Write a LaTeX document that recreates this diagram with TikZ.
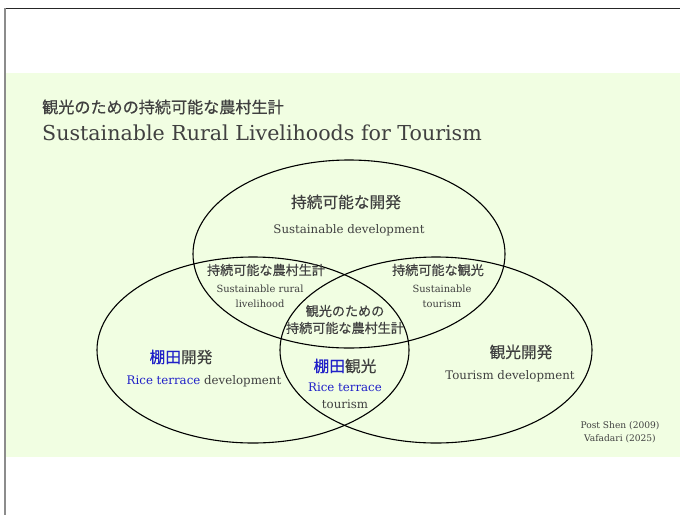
\documentclass[tikz,border=0pt]{standalone}
\usepackage{fontspec}
\setmainfont{DejaVu Serif}
\newfontfamily\jpfont[FakeBold=0.4]{Noto Sans CJK JP}
\definecolor{bandgreen}{HTML}{F1FEE2}
\definecolor{txt}{HTML}{404040}
\definecolor{rice}{HTML}{2020C8}
\begin{document}
\begin{tikzpicture}[x=1pt,y=-1pt,
  jpbig/.style={inner sep=0pt,text=txt,font=\jpfont\fontsize{15.7}{18}\selectfont},
  jpmid/.style={inner sep=0pt,text=txt,font=\jpfont\fontsize{13.1}{17}\selectfont},
  enmid/.style={inner sep=0pt,text=txt,font=\fontsize{11.8}{17}\selectfont},
  ensmall/.style={inner sep=0pt,text=txt,font=\fontsize{9.9}{15}\selectfont,align=center},
  entiny/.style={inner sep=0pt,text=txt,font=\fontsize{9.1}{13}\selectfont},
  venn/.style={draw=black,line width=1.1pt}]
\useasboundingbox (0,0) rectangle (680,515);
\fill[white] (0,0) rectangle (680,515);
\fill[bandgreen] (5,73) rectangle (680,457);
\draw[black!85,line width=1pt] (4,8) -- (680,8);
\draw[black!45,line width=1.2pt] (5,8) -- (5,515);
% title
\node[anchor=west,inner sep=0pt,text=txt,font=\jpfont\fontsize{16.1}{20}\selectfont] (tjp) at (42,107) {観光のための持続可能な農村生計};
\node[anchor=west,inner sep=0pt,text=txt,font=\fontsize{20.6}{24}\selectfont] (ten) at (42,133) {Sustainable Rural Livelihoods for Tourism};
% ellipses
\draw[venn] (349,254) ellipse [x radius=156pt, y radius=94pt];
\draw[venn] (253,350) ellipse [x radius=156pt, y radius=93pt];
\draw[venn] (436,350) ellipse [x radius=156pt, y radius=93pt];
% top
\node[jpbig] (sdjp) at (346,202) {持続可能な開発};
\node[enmid] (sden) at (349,230) {Sustainable development};
% left-top overlap
\node[jpmid] (srljp) at (266,270) {持続可能な農村生計};
\node[ensmall] (srlen) at (260,296.5) {Sustainable rural\\livelihood};
% right-top overlap
\node[jpmid] (stjp) at (438,270) {持続可能な観光};
\node[ensmall] (sten) at (442,296.5) {Sustainable\\tourism};
% center
\node[jpmid,align=center] (cjp) at (345,319.5) {観光のための\\持続可能な農村生計};
% left
\node[jpbig] (rtdjp) at (181,357) {\textcolor{rice}{棚田}開発};
\node[enmid] (rtden) at (204,381) {\textcolor{rice}{Rice terrace} development};
% bottom overlap
\node[jpbig] (rttjp) at (345,366) {\textcolor{rice}{棚田}観光};
\node[enmid,align=center] (rtten) at (345,395.5) {\textcolor{rice}{Rice terrace}\\tourism};
% right
\node[jpbig] (tdjp) at (521,352) {観光開発};
\node[enmid] (tden) at (510,376) {Tourism development};
% sources
\node[entiny,align=center] (src) at (620,432.5) {Post Shen (2009)\\Vafadari (2025)};
\end{tikzpicture}
\end{document}
